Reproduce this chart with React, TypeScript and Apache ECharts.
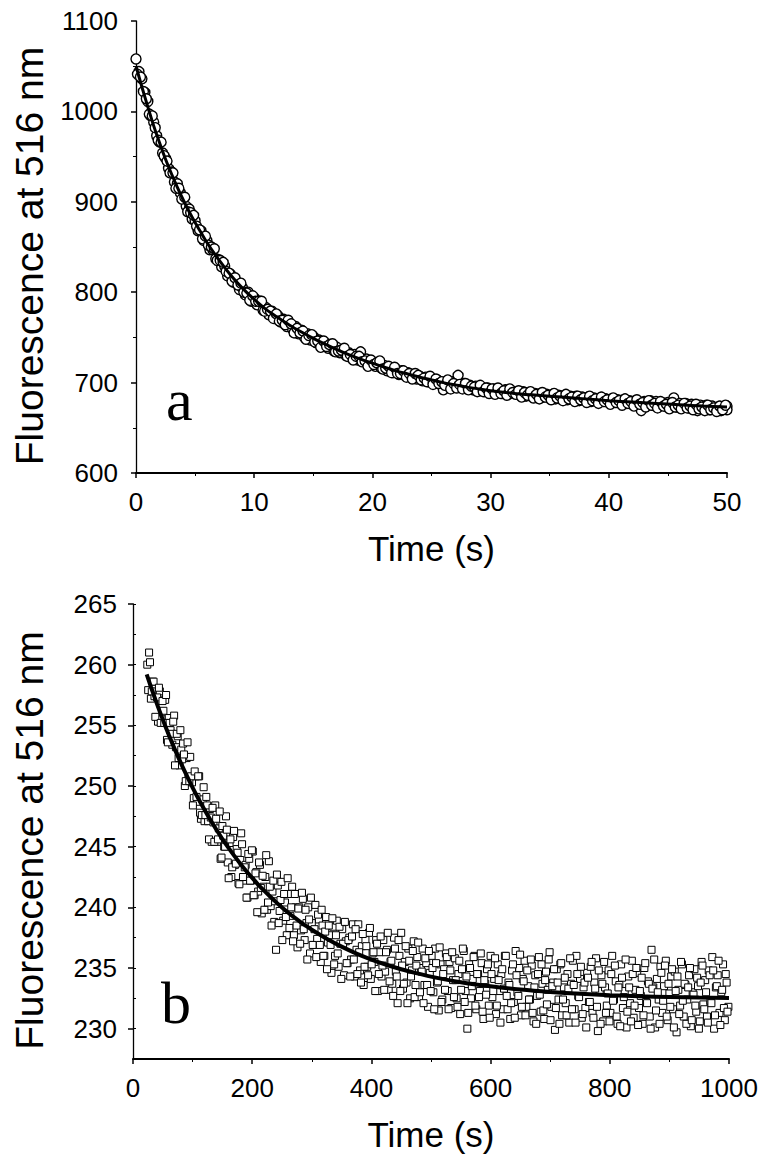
import { useEffect, useRef } from "react";
import * as echarts from "echarts";

// Panel a: fluorescence decay (0–50 s), open circles (two interleaved readings of the dense trace)
const panelAPoints: [number, number][] = [
  [0,1058],[0.25,1044],[0.5,1036],[0.75,1021],[1,1011],[1.25,995],[1.5,988],[1.75,973],[2,966],[2.25,954],[2.5,948],[2.75,937],[3,933],[3.25,922],[3.5,920],[3.75,910],[4,905],[4.25,895],[4.5,892],[4.75,881],[5,879],[5.25,868],[5.5,868],[5.75,857],[6,857],[6.25,847],[6.5,847],[6.75,837],[7,836],[7.25,828],[7.5,829],[7.75,818],[8,820],[8.25,811],[8.5,812],[8.75,803],[9,805],[9.25,797],[9.5,800],[9.75,790],[10,794],[10.25,786],[10.5,790],[10.75,780],[11,783],[11.25,775],[11.5,779],[11.75,771],[12,774],[12.25,767],[12.5,770],[12.75,762],[13,765],[13.25,759],[13.5,762],[13.75,754],[14,758],[14.25,750],[14.5,754],[14.75,747],[15,751],[15.25,744],[15.5,747],[15.75,741],[16,744],[16.25,738],[16.5,742],[16.75,735],[17,739],[17.25,733],[17.5,736],[17.75,730],[18,733],[18.25,728],[18.5,731],[18.75,725],[19,734],[19.25,724],[19.5,726],[19.75,720],[20,723],[20.25,718],[20.5,721],[20.75,716],[21,719],[21.25,713],[21.5,717],[21.75,711],[22,715],[22.25,709],[22.5,713],[22.75,708],[23,711],[23.25,706],[23.5,709],[23.75,704],[24,707],[24.25,702],[24.5,706],[24.75,701],[25,704],[25.25,699],[25.5,703],[25.75,698],[26,692],[26.25,699],[26.5,697],[26.75,701],[27,696],[27.25,708],[27.5,695],[27.75,699],[28,694],[28.25,697],[28.5,692],[28.75,696],[29,691],[29.25,695],[29.5,690],[29.75,694],[30,689],[30.25,693],[30.5,689],[30.75,692],[31,688],[31.25,692],[31.5,687],[31.75,691],[32,688],[32.25,690],[32.5,686],[32.75,690],[33,685],[33.25,689],[33.5,685],[33.75,688],[34,684],[34.25,688],[34.5,684],[34.75,687],[35,683],[35.25,687],[35.5,682],[35.75,686],[36,683],[36.25,686],[36.5,681],[36.75,685],[37,682],[37.25,685],[37.5,680],[37.75,684],[38,681],[38.25,684],[38.5,679],[38.75,683],[39,680],[39.25,683],[39.5,679],[39.75,682],[40,678],[40.25,682],[40.5,678],[40.75,681],[41,677],[41.25,681],[41.5,677],[41.75,680],[42,676],[42.25,680],[42.5,676],[42.75,669],[43,679],[43.25,676],[43.5,680],[43.75,675],[44,679],[44.25,675],[44.5,678],[44.75,674],[45,678],[45.25,674],[45.5,683],[45.75,673],[46,677],[46.25,673],[46.5,677],[46.75,672],[47,676],[47.25,672],[47.5,669],[47.75,675],[48,671],[48.25,675],[48.5,670],[48.75,674],[49,670],[49.25,673],[49.5,669],[49.75,673],[50,674],[50,670]
];

const panelAPointsMid: [number, number][] = [
  [0.125,1041],[0.375,1038],[0.625,1022],[0.875,1014],[1.125,997],[1.375,995],[1.625,982],[1.875,968],[2.125,966],[2.375,951],[2.625,945],[2.875,932],[3.125,932],[3.375,915],[3.625,915],[3.875,903],[4.125,905],[4.375,889],[4.625,888],[4.875,885],[5.125,873],[5.375,869],[5.625,859],[5.875,862],[6.125,852],[6.375,850],[6.625,848],[6.875,835],[7.125,835],[7.375,833],[7.625,823],[7.875,821],[8.125,812],[8.375,816],[8.625,808],[8.875,810],[9.125,800],[9.375,799],[9.625,791],[9.875,796],[10.125,790],[10.375,790],[10.625,790],[10.875,779],[11.125,781],[11.375,779],[11.625,771],[11.875,776],[12.125,768],[12.375,769],[12.625,764],[12.875,769],[13.125,765],[13.375,755],[13.625,760],[13.875,755],[14.125,757],[14.375,748],[14.625,752],[14.875,753],[15.125,745],[15.375,746],[15.625,739],[15.875,746],[16.125,740],[16.375,742],[16.625,743],[16.875,734],[17.125,735],[17.375,736],[17.625,738],[17.875,729],[18.125,731],[18.375,725],[18.625,729],[18.875,729],[19.125,723],[19.375,724],[19.625,718],[19.875,725],[20.125,720],[20.375,722],[20.625,724],[20.875,715],[21.125,716],[21.375,718],[21.625,711],[21.875,717],[22.125,710],[22.375,710],[22.625,713],[22.875,706],[23.125,710],[23.375,704],[23.625,710],[23.875,708],[24.125,703],[24.375,705],[24.625,701],[24.875,707],[25.125,698],[25.375,704],[25.625,699],[25.875,701],[26.125,697],[26.375,703],[26.625,693],[26.875,699],[27.125,694],[27.375,698],[27.625,693],[27.875,699],[28.125,692],[28.375,696],[28.625,695],[28.875,690],[29.125,697],[29.375,690],[29.625,694],[29.875,688],[30.125,693],[30.375,687],[30.625,694],[30.875,688],[31.125,691],[31.375,686],[31.625,693],[31.875,689],[32.125,687],[32.375,691],[32.625,684],[32.875,689],[33.125,686],[33.375,690],[33.625,683],[33.875,687],[34.125,682],[34.375,689],[34.625,684],[34.875,686],[35.125,681],[35.375,688],[35.625,683],[35.875,685],[36.125,680],[36.375,687],[36.625,682],[36.875,684],[37.125,679],[37.375,685],[37.625,681],[37.875,683],[38.125,678],[38.375,685],[38.625,680],[38.875,682],[39.125,677],[39.375,684],[39.625,679],[39.875,681],[40.125,676],[40.375,683],[40.625,678],[40.875,680],[41.125,675],[41.375,682],[41.625,677],[41.875,679],[42.125,674],[42.375,681],[42.625,676],[42.875,678],[43.125,673],[43.375,680],[43.625,675],[43.875,677],[44.125,672],[44.375,679],[44.625,674],[44.875,676],[45.125,671],[45.375,678],[45.625,673],[45.875,675],[46.125,671],[46.375,677],[46.625,672],[46.875,674],[47.125,670],[47.375,676],[47.625,671],[47.875,673],[48.125,669],[48.375,675],[48.625,670],[48.875,672],[49.125,668],[49.375,674],[49.625,670],[49.875,675]
];

const panelAFit: [number, number][] = [
  [0,1050],[0.5,1027],[1,1005],[1.5,984],[2,965],[2.5,947],[3,931],[3.5,916],[4,902],[4.5,889],[5,877],[5.5,866],[6,855],[7,836],[8,819],[9,804.5],[10,792],[11,781],[12,772],[13,763.5],[14,756],[15,749],[16,742.5],[17,736.5],[18,731],[19,726],[20,721.5],[21,717],[22,713],[23,709.5],[24,706],[25,703],[26,700],[27,697.5],[28,695],[29,693],[30,691],[32,688],[34,686],[36,684],[38,682],[40,680],[42,678.5],[44,677],[46,675.5],[48,674],[50,673]
];

// Panel b: fluorescence decay (0–1000 s), open squares (two interleaved readings of the dense trace)
const panelBPoints: [number, number][] = [
  [24,260.0],[27,261.0],[30,257.2],[33,258.6],[36,257.4],[39,257.7],[42,255.3],[45,257.8],[48,255.5],[51,256.2],[54,257.1],[57,253.8],[60,255.6],[63,254.6],[66,253.4],[69,255.8],[72,253.2],[75,254.1],[78,251.7],[81,253.0],[84,253.5],[87,250.0],[90,252.3],[93,250.6],[96,252.4],[99,250.3],[102,249.0],[105,250.8],[108,248.7],[111,250.8],[114,247.3],[117,248.9],[120,247.1],[123,249.1],[126,247.1],[129,248.1],[132,245.4],[135,247.0],[138,248.4],[141,245.4],[144,246.5],[147,244.0],[150,246.7],[153,245.0],[156,247.5],[159,243.7],[162,245.3],[165,242.5],[168,245.8],[171,243.5],[174,244.8],[177,242.0],[180,243.9],[183,245.2],[186,242.2],[189,243.5],[192,240.8],[195,244.0],[198,242.2],
  [201,244.6],[204,241.0],[207,242.9],[210,241.3],[213,243.5],[216,239.5],[219,241.7],[222,242.5],[225,239.8],[228,243.8],[231,240.1],[234,241.3],[237,238.8],[240,236.5],[243,241.8],[246,239.7],[249,242.1],[252,238.9],[255,240.4],[258,237.7],[261,241.1],[264,239.3],[267,241.7],[270,237.7],[273,240.0],[276,236.7],[279,240.0],[282,238.1],[285,240.7],[288,237.3],[291,238.7],[294,240.0],[297,236.2],[300,238.7],[303,236.9],[306,240.2],[309,237.4],[312,239.0],[315,235.5],[318,238.5],[321,236.0],[324,239.2],[327,237.1],[330,237.7],[333,234.6],[336,238.4],[339,236.0],[342,238.9],[345,235.1],[348,237.0],[351,238.2],[354,234.4],[357,237.2],[360,235.4],[363,237.5],[366,235.7],[369,238.6],[372,234.3],[375,236.5],[378,238.6],[381,234.8],[384,236.8],[387,233.6],[390,237.3],[393,235.1],[396,237.9],[399,234.1],
  [402,236.2],[405,235.5],[408,237.3],[411,233.1],[414,236.3],[417,234.3],[420,237.3],[423,234.7],[426,236.5],[429,233.2],[432,235.5],[435,233.7],[438,237.5],[441,234.7],[444,232.1],[447,236.0],[450,237.9],[453,233.3],[456,235.5],[459,233.8],[462,236.6],[465,232.5],[468,234.8],[471,237.2],[474,233.6],[477,235.9],[480,232.6],[483,235.0],[486,236.6],[489,233.6],[492,235.4],[495,231.8],[498,234.6],[501,236.0],[504,233.0],[507,236.6],[510,233.8],[513,231.5],[516,235.3],[519,232.4],[522,234.9],[525,236.2],[528,233.1],[531,235.5],[534,231.7],[537,234.0],[540,235.8],[543,232.5],[546,234.5],[549,231.2],[552,234.9],[555,236.4],[558,233.1],[561,230.0],[564,235.3],[567,232.5],[570,234.1],[573,236.0],[576,231.6],[579,234.5],[582,233.1],[585,235.4],[588,230.8],[591,233.7],[594,234.9],[597,231.9],
  [600,236.0],[603,232.6],[606,234.1],[609,231.2],[612,235.3],[615,233.1],[618,234.5],[621,231.6],[624,236.0],[627,232.7],[630,233.8],[633,230.8],[636,234.8],[639,232.2],[642,236.4],[645,233.0],[648,235.0],[651,231.1],[654,234.1],[657,235.6],[660,231.8],[663,233.5],[666,232.4],[669,235.2],[672,230.6],[675,234.4],[678,232.7],[681,235.9],[684,231.4],[687,233.7],[690,230.8],[693,234.7],[696,233.2],[699,236.3],[702,231.8],[705,233.8],[708,229.9],[711,234.9],[714,232.4],[717,235.3],[720,231.1],[723,233.4],[726,232.1],[729,234.5],[732,230.5],[735,233.7],[738,235.6],[741,231.6],[744,236.0],[747,232.7],[750,234.1],[753,230.9],[756,233.4],[759,231.7],[762,234.6],[765,232.2],[768,235.1],[771,231.3],[774,233.8],[777,235.8],[780,229.8],[783,233.1],[786,234.4],[789,230.6],[792,233.4],[795,231.9],[798,234.8],
  [801,231.3],[804,236.0],[807,232.4],[810,233.9],[813,230.4],[816,233.6],[819,235.3],[822,231.7],[825,233.1],[828,230.1],[831,234.3],[834,232.1],[837,235.6],[840,230.9],[843,233.2],[846,234.6],[849,231.7],[852,232.7],[855,230.4],[858,235.0],[861,232.2],[864,233.9],[867,231.0],[870,236.5],[873,233.4],[876,230.1],[879,234.1],[882,232.4],[885,235.1],[888,231.3],[891,233.5],[894,235.6],[897,230.7],[900,232.9],[903,234.3],[906,231.6],[909,234.7],[912,229.7],[915,233.2],[918,231.9],[921,235.3],[924,231.0],[927,233.6],[930,232.4],[933,234.4],[936,230.2],[939,233.0],[942,234.9],[945,231.4],[948,233.5],[951,230.6],[954,235.5],[957,232.0],[960,234.0],[963,231.0],[966,234.8],[969,232.3],[972,235.9],[975,230.0],[978,233.4],[981,234.4],[984,231.3],[987,233.0],[990,235.3],[993,230.7],[996,233.8],[999,231.8]
];

const panelBPointsMid: [number, number][] = [
  [25.5,257.9],[28.5,260.2],[31.5,257.8],[34.5,258.6],[37.5,255.7],[40.5,257.3],[43.5,258.1],[46.5,255.2],[49.5,257.0],[52.5,255.2],[55.5,257.5],[58.5,253.6],[61.5,255.2],[64.5,254.3],[67.5,255.3],[70.5,251.7],[73.5,254.3],[76.5,252.3],[79.5,254.6],[82.5,252.2],[85.5,252.6],[88.5,250.4],[91.5,253.6],[94.5,250.4],[97.5,250.8],[100.5,248.4],[103.5,251.2],[106.5,249.1],[109.5,250.8],[112.5,247.8],[115.5,247.6],[118.5,249.9],[121.5,247.6],[124.5,248.4],[127.5,245.6],[130.5,247.4],[133.5,248.2],[136.5,245.4],[139.5,247.3],[142.5,245.6],[145.5,247.9],[148.5,244.1],[151.5,245.9],[154.5,245.0],[157.5,246.4],[160.5,242.4],[163.5,245.6],[166.5,243.3],[169.5,246.3],[172.5,243.6],[175.5,244.5],[178.5,241.9],[181.5,246.1],[184.5,242.5],[187.5,243.3],[190.5,240.8],[193.5,244.4],[196.5,242.2],[199.5,244.7],
  [202.5,241.0],[205.5,242.8],[208.5,239.6],[211.5,243.7],[214.5,241.6],[217.5,242.6],[220.5,239.8],[223.5,244.3],[226.5,240.4],[229.5,241.7],[232.5,238.5],[235.5,242.2],[238.5,240.5],[241.5,242.7],[244.5,238.7],[247.5,240.6],[250.5,237.3],[253.5,241.1],[256.5,239.2],[259.5,242.4],[262.5,238.3],[265.5,240.0],[268.5,237.2],[271.5,241.1],[274.5,238.5],[277.5,239.9],[280.5,237.0],[283.5,241.2],[286.5,238.2],[289.5,239.8],[292.5,235.7],[295.5,239.0],[298.5,240.8],[301.5,236.9],[304.5,238.2],[307.5,235.9],[310.5,239.4],[313.5,236.9],[316.5,239.8],[319.5,236.0],[322.5,238.0],[325.5,234.9],[328.5,238.5],[331.5,236.9],[334.5,239.1],[337.5,235.3],[340.5,237.7],[343.5,236.2],[346.5,238.4],[349.5,234.1],[352.5,237.0],[355.5,238.8],[358.5,235.4],[361.5,237.3],[364.5,234.3],[367.5,237.6],[370.5,235.7],[373.5,238.2],[376.5,234.5],[379.5,236.3],[382.5,233.8],[385.5,237.8],[388.5,235.1],[391.5,236.8],[394.5,234.4],[397.5,238.3],
  [400.5,235.3],[403.5,236.3],[406.5,233.1],[409.5,237.0],[412.5,234.5],[415.5,237.6],[418.5,235.2],[421.5,233.2],[424.5,236.3],[427.5,237.9],[430.5,233.9],[433.5,235.6],[436.5,232.7],[439.5,236.6],[442.5,234.3],[445.5,237.3],[448.5,233.1],[451.5,235.2],[454.5,233.7],[457.5,236.8],[460.5,232.1],[463.5,235.6],[466.5,234.3],[469.5,236.4],[472.5,232.6],[475.5,235.2],[478.5,237.1],[481.5,233.0],[484.5,234.7],[487.5,232.1],[490.5,235.8],[493.5,233.6],[496.5,236.4],[499.5,233.1],[502.5,235.0],[505.5,231.6],[508.5,235.4],[511.5,233.9],[514.5,236.7],[517.5,232.2],[520.5,234.5],[523.5,233.2],[526.5,235.9],[529.5,231.6],[532.5,234.8],[535.5,236.3],[538.5,232.6],[541.5,234.0],[544.5,231.8],[547.5,235.6],[550.5,233.2],[553.5,236.6],[556.5,232.2],[559.5,234.3],[562.5,231.3],[565.5,235.0],[568.5,233.5],[571.5,235.9],[574.5,231.9],[577.5,234.5],[580.5,232.6],[583.5,236.2],[586.5,231.4],[589.5,234.0],[592.5,232.8],[595.5,235.3],[598.5,230.9],
  [601.5,234.5],[604.5,233.1],[607.5,235.8],[610.5,231.9],[613.5,234.0],[616.5,230.5],[619.5,234.9],[622.5,233.3],[625.5,236.0],[628.5,231.6],[631.5,233.6],[634.5,232.1],[637.5,235.3],[640.5,230.9],[643.5,234.4],[646.5,232.7],[649.5,236.1],[652.5,231.8],[655.5,233.9],[658.5,231.1],[661.5,234.8],[664.5,232.4],[667.5,235.7],[670.5,231.3],[673.5,233.4],[676.5,230.4],[679.5,234.5],[682.5,232.8],[685.5,235.3],[688.5,231.5],[691.5,234.0],[694.5,232.0],[697.5,235.7],[700.5,230.7],[703.5,233.5],[706.5,234.9],[709.5,231.7],[712.5,233.8],[715.5,230.4],[718.5,235.4],[721.5,232.4],[724.5,234.2],[727.5,231.1],[730.5,233.3],[733.5,235.8],[736.5,231.6],[739.5,233.6],[742.5,230.5],[745.5,234.5],[748.5,232.6],[751.5,235.1],[754.5,231.2],[757.5,233.8],[760.5,230.1],[763.5,234.2],[766.5,232.2],[769.5,235.5],[772.5,230.9],[775.5,233.3],[778.5,231.8],[781.5,234.8],[784.5,230.4],[787.5,233.7],[790.5,235.5],[793.5,231.3],[796.5,232.9],[799.5,230.6],
  [802.5,234.5],[805.5,232.3],[808.5,235.2],[811.5,231.0],[814.5,233.4],[817.5,230.2],[820.5,234.2],[823.5,232.6],[826.5,235.7],[829.5,231.4],[832.5,233.4],[835.5,230.6],[838.5,234.5],[841.5,231.9],[844.5,235.0],[847.5,230.3],[850.5,233.1],[853.5,234.2],[856.5,231.1],[859.5,235.4],[862.5,232.1],[865.5,233.7],[868.5,230.0],[871.5,233.3],[874.5,235.7],[877.5,231.5],[880.5,233.0],[883.5,230.4],[886.5,234.6],[889.5,232.3],[892.5,235.2],[895.5,231.0],[898.5,233.7],[901.5,231.8],[904.5,234.9],[907.5,230.1],[910.5,233.1],[913.5,234.3],[916.5,231.2],[919.5,235.5],[922.5,232.3],[925.5,233.7],[928.5,230.4],[931.5,233.4],[934.5,235.0],[937.5,230.7],[940.5,232.8],[943.5,231.9],[946.5,234.2],[949.5,230.0],[952.5,233.8],[955.5,235.2],[958.5,231.6],[961.5,233.0],[964.5,230.5],[967.5,234.4],[970.5,232.1],[973.5,234.8],[976.5,231.1],[979.5,233.5],[982.5,235.6],[985.5,230.3],[988.5,233.2],[991.5,231.7],[994.5,234.5],[997.5,231.4]
];

const panelBFit: [number, number][] = [
  [23,259.2],[30,258.18],[40,256.79],[50,255.47],[60,254.22],[70,253.04],[80,251.93],[90,250.87],[100,249.87],[110,248.93],[120,248.04],[130,247.19],[140,246.39],[150,245.63],[160,244.92],[170,244.24],[180,243.6],[190,243.0],[200,242.43],[210,241.88],[220,241.37],[230,240.89],[240,240.43],[250,239.99],[260,239.58],[270,239.19],[280,238.83],[290,238.48],[300,238.15],[325,237.41],[350,236.76],[375,236.19],[400,235.7],[425,235.27],[450,234.9],[475,234.58],[500,234.29],[550,233.83],[600,233.49],[650,233.22],[700,233.02],[750,232.87],[800,232.76],[850,232.67],[900,232.61],[950,232.56],[1000,232.52]
];

const panelBYTicks = [230, 235, 240, 245, 250, 255, 260, 265];
const panelLetters = ["a", "b"];
const xTitle = "Time (s)";
const yTitle = "Fluorescence at 516 nm";

const SANS = "Liberation Sans";
const SERIF = "Liberation Serif";

const plain = (v: number) => String(v);

const labelStyle = (margin: number) => ({
  color: "#000",
  fontSize: 26,
  fontFamily: SANS,
  margin,
  formatter: plain,
});

const tick = { show: true, length: 5, lineStyle: { color: "#000", width: 1.5 } };
const minor = (n: number) => ({ show: true, splitNumber: n, length: 3, lineStyle: { color: "#000", width: 1 } });

export default function App() {
  const ref = useRef<HTMLDivElement>(null);
  useEffect(() => {
    if (!ref.current) return;
    const chart = echarts.init(ref.current, null, { renderer: "svg" });
    const option: any = {
      animation: false,
      backgroundColor: "#fff",
      grid: [
        { left: 136, top: 21, width: 591, height: 452, outerBoundsMode: "none" },
        { left: 133, top: 604, width: 596, height: 455, outerBoundsMode: "none" },
      ],
      xAxis: [
        {
          type: "value", gridIndex: 0, min: 0, max: 50, interval: 10,
          axisLine: { show: true, onZero: false, lineStyle: { color: "#000", width: 2 } },
          axisTick: tick, minorTick: minor(2),
          splitLine: { show: false },
          axisLabel: labelStyle(16),
          name: xTitle, nameLocation: "middle", nameGap: 58,
          nameTextStyle: { color: "#000", fontSize: 35, fontFamily: SANS },
        },
        {
          type: "value", gridIndex: 1, min: 0, max: 1000, interval: 200,
          axisLine: { show: true, onZero: false, lineStyle: { color: "#000", width: 2 } },
          axisTick: tick, minorTick: minor(2),
          splitLine: { show: false },
          axisLabel: labelStyle(16),
          name: xTitle, nameLocation: "middle", nameGap: 58,
          nameTextStyle: { color: "#000", fontSize: 35, fontFamily: SANS },
        },
      ],
      yAxis: [
        {
          type: "value", gridIndex: 0, min: 600, max: 1100, interval: 100,
          axisLine: { show: true, onZero: false, lineStyle: { color: "#000", width: 1.3 } },
          axisTick: tick, minorTick: minor(2),
          splitLine: { show: false },
          axisLabel: labelStyle(18),
          name: yTitle, nameLocation: "middle", nameGap: 86,
          nameTextStyle: { color: "#000", fontSize: 39, fontFamily: SANS, padding: [0, 18, 0, 0] },
        },
        {
          type: "value", gridIndex: 1, min: 227.5, max: 265,
          axisLine: { show: true, onZero: false, lineStyle: { color: "#000", width: 1.3 } },
          axisTick: { ...tick, customValues: panelBYTicks },
          splitLine: { show: false },
          axisLabel: { ...labelStyle(16), customValues: panelBYTicks },
          name: yTitle, nameLocation: "middle", nameGap: 84,
          nameTextStyle: { color: "#000", fontSize: 39, fontFamily: SANS, padding: [0, 18, 0, 0] },
        },
        {
          type: "value", gridIndex: 1, min: 227.5, max: 265, interval: 2.5,
          axisLine: { show: false },
          axisTick: { show: true, length: 3, lineStyle: { color: "#000", width: 1 } },
          axisLabel: { show: false },
          splitLine: { show: false },
        },
      ],
      series: [
        {
          type: "scatter", xAxisIndex: 0, yAxisIndex: 0, data: panelAPoints.concat(panelAPointsMid),
          symbol: "circle", symbolSize: 10,
          itemStyle: { color: "#fff", borderColor: "#000", borderWidth: 1.4, opacity: 1 },
          z: 2,
        },
        {
          type: "line", xAxisIndex: 0, yAxisIndex: 0, data: panelAFit,
          smooth: 0.3, showSymbol: false,
          lineStyle: { color: "#000", width: 3 }, z: 3,
        },
        {
          type: "scatter", xAxisIndex: 1, yAxisIndex: 1, data: panelBPoints.concat(panelBPointsMid),
          symbol: "rect", symbolSize: 7,
          itemStyle: { color: "#fff", borderColor: "#000", borderWidth: 1, opacity: 1 },
          z: 2,
        },
        {
          type: "line", xAxisIndex: 1, yAxisIndex: 1, data: panelBFit,
          smooth: 0.3, showSymbol: false,
          lineStyle: { color: "#000", width: 4 }, z: 3,
        },
      ],
      graphic: [
        {
          type: "text", x: 166, y: 400, z: 10,
          style: { text: panelLetters[0], fontSize: 60, fontFamily: SERIF, fill: "#000", align: "left", verticalAlign: "middle" },
        },
        {
          type: "text", x: 161, y: 1003, z: 10,
          style: { text: panelLetters[1], fontSize: 60, fontFamily: SERIF, fill: "#000", align: "left", verticalAlign: "middle" },
        },
      ],
    };
    chart.setOption(option);
    return () => chart.dispose();
  }, []);
  return (
    <div
      ref={ref}
      style={{ position: "absolute", left: 0, top: 0, width: 769, height: 1161, background: "#fff" }}
    />
  );
}
